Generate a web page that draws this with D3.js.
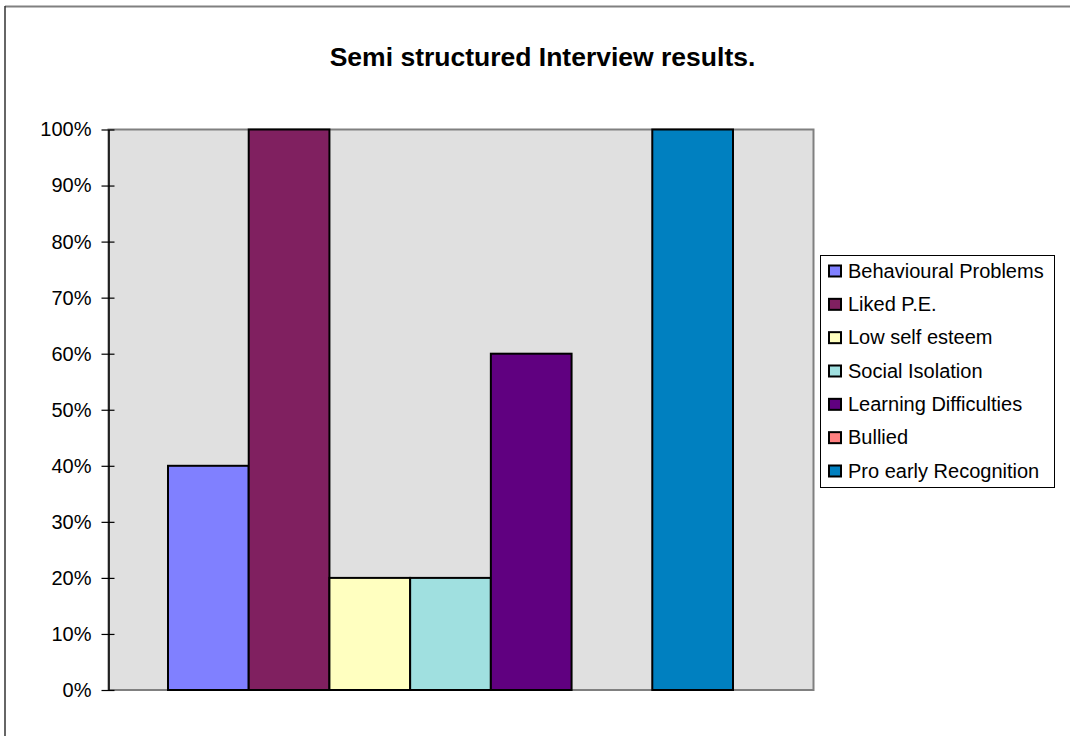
<!DOCTYPE html>
<html>
<head>
<meta charset="utf-8">
<script src="https://cdn.jsdelivr.net/npm/d3@7"></script>
<style>
  html, body { margin: 0; padding: 0; background: #ffffff; }
  svg { display: block; }
  text { font-family: "Liberation Sans", Arial, sans-serif; fill: #000; }
</style>
</head>
<body>
<svg id="chart" width="1070" height="736"></svg>
<script>
// Interview outcomes (share of respondents)
const series = [
  "Behavioural Problems",
  "Liked P.E.",
  "Low self esteem",
  "Social Isolation",
  "Learning Difficulties",
  "Bullied",
  "Pro early Recognition"
];
const values = [0.40, 1.00, 0.20, 0.20, 0.60, 0.00, 1.00];
const colors = ["#8080FF", "#802060", "#FFFFC0", "#A0E0E0", "#600080", "#FF8080", "#0080C0"];
const yTicks = [0, 0.1, 0.2, 0.3, 0.4, 0.5, 0.6, 0.7, 0.8, 0.9, 1.0];
const title = "Semi structured Interview results.";

const svg = d3.select("#chart");

// chart frame
svg.append("line").attr("x1", 5).attr("y1", 6.5).attr("x2", 1070).attr("y2", 6.5)
  .attr("stroke", "#808080").attr("stroke-width", 2);
svg.append("line").attr("x1", 5).attr("y1", 6).attr("x2", 5).attr("y2", 736)
  .attr("stroke", "#333").attr("stroke-width", 1.5);

// title
svg.append("text")
  .attr("x", 542.5).attr("y", 66)
  .attr("text-anchor", "middle")
  .style("font-size", "26.5px").style("font-weight", "bold")
  .text(title);

// plot area
const plot = { left: 108.5, top: 129.5, right: 813.5, bottom: 690 };
const y = d3.scaleLinear().domain([0, 1]).range([plot.bottom, plot.top]);
const x = d3.scaleBand().domain(series).range([168, 733]).paddingInner(0).paddingOuter(0);

svg.append("rect")
  .attr("x", plot.left).attr("y", plot.top)
  .attr("width", plot.right - plot.left).attr("height", plot.bottom - plot.top)
  .attr("fill", "#E0E0E0").attr("stroke", "#808080").attr("stroke-width", 2);

// bars
svg.append("g").selectAll("rect")
  .data(series.map((s, i) => ({ s, v: values[i], c: colors[i] })))
  .join("rect")
  .attr("x", d => x(d.s))
  .attr("y", d => y(d.v))
  .attr("width", x.bandwidth())
  .attr("height", d => y(0) - y(d.v))
  .attr("fill", d => d.c)
  .attr("stroke", d => d.v > 0 ? "#000" : "none")
  .attr("stroke-width", 2);

// y axis
const yAxis = d3.axisLeft(y)
  .tickValues(yTicks)
  .tickFormat(d3.format(".0%"))
  .tickSizeInner(0).tickSizeOuter(0).tickPadding(17);
const gy = svg.append("g").attr("transform", `translate(${plot.left},0)`).call(yAxis);
gy.select(".domain").attr("stroke", "#000").attr("stroke-width", 1.5);
gy.selectAll(".tick text").style("font-size", "20px").style("font-family", "'Liberation Sans', Arial, sans-serif").attr("fill", "#000");
gy.selectAll(".tick line").attr("x1", -7).attr("x2", 6).attr("stroke", "#000").attr("stroke-width", 1.2);

// legend
const legend = svg.append("g");
legend.append("rect")
  .attr("x", 820.5).attr("y", 255.5).attr("width", 234).attr("height", 232)
  .attr("fill", "#fff").attr("stroke", "#000").attr("stroke-width", 1);
const rowY = d3.scalePoint().domain(series).range([271, 471]);
const items = legend.selectAll("g.item").data(series.map((s, i) => ({ s, c: colors[i] })))
  .join("g").attr("class", "item");
items.append("rect")
  .attr("x", 829).attr("y", d => rowY(d.s) - 5.5)
  .attr("width", 12).attr("height", 11)
  .attr("fill", d => d.c).attr("stroke", "#000").attr("stroke-width", 2);
items.append("text")
  .attr("x", 848).attr("y", d => rowY(d.s) + 6.5)
  .style("font-size", "20px")
  .text(d => d.s);
</script>
</body>
</html>
